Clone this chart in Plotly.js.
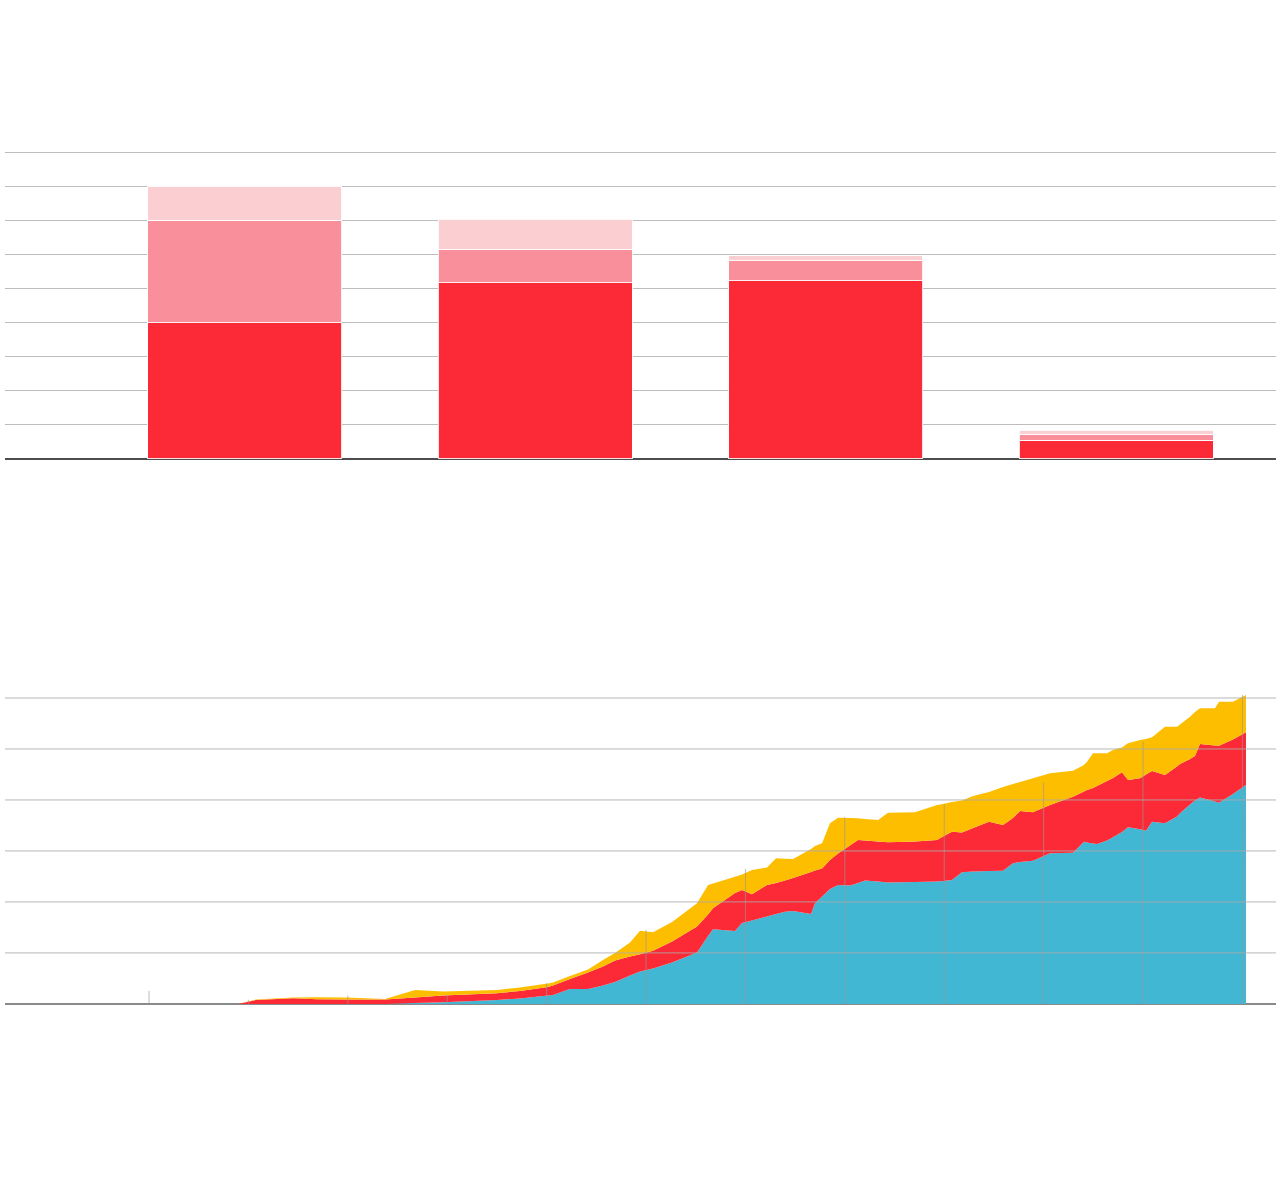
<!DOCTYPE html>
<html>
<head>
<meta charset="utf-8">
<script src="https://cdn.plot.ly/plotly-3.0.1.min.js"></script>
<style>html,body{margin:0;padding:0;background:#fff;}#chart{width:1280px;height:1186px;}</style>
</head>
<body>
<div id="chart"></div>
<script>
// ---- Top chart: stacked bars ----
const barCategories = ['A', 'B', 'C', 'D'];
const barDark  = [4.00, 5.17, 5.22, 0.55];
const barMid   = [3.00, 0.97, 0.59, 0.17];
const barLight = [1.00, 0.89, 0.15, 0.13];

// ---- Bottom chart: stacked areas over time (decimal years) ----
const areaX = [2008.895,2009.076,2009.449,2009.690,2009.992,2010.374,2010.676,2010.958,2011.501,2011.732,
  2012.014,2012.064,2012.235,2012.416,2012.567,2012.688,2012.839,2012.940,2013.070,2013.262,
  2013.513,2013.624,2013.674,2013.895,2013.966,2014.066,2014.217,2014.308,2014.398,2014.479,
  2014.660,2014.700,2014.771,2014.851,2014.932,2015.052,2015.133,2015.203,2015.334,2015.435,
  2015.706,2015.928,2015.988,2016.078,2016.179,2016.290,2016.451,2016.592,2016.692,2016.763,
  2016.893,2017.064,2017.296,2017.406,2017.437,2017.497,2017.537,2017.638,2017.698,2017.789,
  2017.849,2017.970,2018.030,2018.091,2018.221,2018.342,2018.372,2018.473,2018.523,2018.573,
  2018.724,2018.765,2018.905,2019.036];
const areaBlue = [0,0,0,0,0,0,0.020,0.033,0.078,0.108,
  0.163,0.176,0.294,0.294,0.363,0.431,0.559,0.637,0.696,0.814,
  1.006,1.333,1.465,1.431,1.588,1.637,1.716,1.765,1.808,1.824,
  1.765,1.975,2.108,2.255,2.333,2.320,2.373,2.418,2.402,2.382,
  2.392,2.402,2.412,2.431,2.582,2.598,2.608,2.612,2.759,2.784,
  2.810,2.955,2.967,3.182,3.167,3.147,3.137,3.206,3.269,3.373,
  3.465,3.425,3.398,3.575,3.543,3.676,3.739,3.912,3.990,4.049,
  3.971,3.947,4.118,4.294];
const areaRed = [0,0.078,0.112,0.092,0.084,0.084,0.104,0.130,0.132,0.147,
  0.170,0.187,0.196,0.324,0.372,0.418,0.372,0.338,0.349,0.408,
  0.510,0.422,0.411,0.745,0.647,0.514,0.617,0.608,0.610,0.647,
  0.823,0.643,0.549,0.569,0.618,0.788,0.843,0.788,0.784,0.789,
  0.794,0.814,0.872,0.947,0.781,0.853,0.967,0.898,0.888,1.000,
  0.949,0.947,1.098,0.985,1.029,1.088,1.138,1.167,1.162,1.170,
  0.927,1.000,1.102,0.994,0.947,0.981,0.967,0.892,0.873,1.049,
  1.098,1.118,1.068,1.033];
const areaYellow = [0,0.010,0.012,0.039,0.040,0.014,0.151,0.078,0.065,0.069,
  0.069,0.059,0.059,0.058,0.128,0.151,0.271,0.462,0.361,0.386,
  0.459,0.578,0.487,0.320,0.304,0.476,0.340,0.484,0.431,0.372,
  0.451,0.480,0.494,0.719,0.702,0.539,0.425,0.421,0.422,0.580,
  0.573,0.686,0.638,0.583,0.627,0.627,0.582,0.743,0.665,0.569,
  0.668,0.622,0.510,0.519,0.555,0.681,0.641,0.543,0.549,0.486,
  0.720,0.751,0.696,0.660,0.947,0.780,0.774,0.829,0.862,0.700,
  0.729,0.862,0.741,0.732];

// vertical year markers
const markerYears   = [2008,2009,2010,2011,2012,2013,2014,2015,2016,2017,2018,2019];
const markerHeights = [0.255,0.08,0.163,0.176,0.406,1.45,2.647,3.667,3.922,4.347,5.143,6.06];

const bottomGridValues = [1,2,3,4,5,6];

const RED = '#FC2A36', PINK = '#F98F9A', LIGHT = '#FBCED1';
const BLUE = '#42B7D4', YELLOW = '#FEBE00';

const barLine = {color: 'rgba(255,255,255,0.85)', width: 1};
const traces = [
  {type:'bar', x: barCategories, y: barDark, marker:{color: RED, line: barLine}, width: 0.668, xaxis:'x', yaxis:'y', hoverinfo:'skip'},
  {type:'bar', x: barCategories, y: barMid, marker:{color: PINK, line: barLine}, width: 0.668, xaxis:'x', yaxis:'y', hoverinfo:'skip'},
  {type:'bar', x: barCategories, y: barLight, marker:{color: LIGHT, line: barLine}, width: 0.668, xaxis:'x', yaxis:'y', hoverinfo:'skip'},
  {type:'scatter', x: areaX, y: areaBlue, stackgroup:'s', mode:'none', fillcolor: BLUE, xaxis:'x2', yaxis:'y2', hoverinfo:'skip'},
  {type:'scatter', x: areaX, y: areaRed, stackgroup:'s', mode:'none', fillcolor: RED, xaxis:'x2', yaxis:'y2', hoverinfo:'skip'},
  {type:'scatter', x: areaX, y: areaYellow, stackgroup:'s', mode:'none', fillcolor: YELLOW, xaxis:'x2', yaxis:'y2', hoverinfo:'skip'}
];

const dropX = [], dropY = [];
markerYears.forEach((yr, i) => { dropX.push(yr, yr, null); dropY.push(0, markerHeights[i], null); });
traces.push({type:'scatter', mode:'lines', x: dropX, y: dropY, line:{color:'rgba(150,150,150,0.65)', width:1}, xaxis:'x2', yaxis:'y2', hoverinfo:'skip'});

const shapes = bottomGridValues.map(v => ({
  type:'line', xref:'x2 domain', yref:'y2', x0:0, x1:1, y0:v, y1:v,
  line:{color:'rgba(170,170,170,0.85)', width:1}, layer:'above'
}));

const layout = {
  width: 1280, height: 1186,
  margin: {l:0, r:0, t:0, b:0},
  paper_bgcolor: '#fff', plot_bgcolor: '#fff',
  showlegend: false, hovermode: false,
  barmode: 'stack',
  xaxis: {domain:[0.00391, 0.99688], type:'category', range:[-0.8253, 3.5507], showgrid:false, zeroline:false, showticklabels:false, ticks:'', showline:false, fixedrange:true},
  yaxis: {domain:[0.61011, 0.88046], range:[-0.1, 9.3], tick0:0, dtick:1, showgrid:true, gridcolor:'#bdbdbd', gridwidth:1,
          zeroline:true, zerolinecolor:'#4d4d4d', zerolinewidth:2, showticklabels:false, ticks:'', fixedrange:true},
  xaxis2: {domain:[0.00391, 0.99688], anchor:'y2', range:[2006.551, 2019.338], showgrid:false, zeroline:false, showticklabels:false, ticks:'', showline:false, fixedrange:true},
  yaxis2: {domain:[0.14924, 0.42437], anchor:'x2', range:[-0.1, 6.3], showgrid:false,
          zeroline:true, zerolinecolor:'#8a8a8a', zerolinewidth:2, showticklabels:false, ticks:'', fixedrange:true},
  shapes: shapes
};

Plotly.newPlot('chart', traces, layout, {displayModeBar:false, staticPlot:true});
</script>
</body>
</html>
